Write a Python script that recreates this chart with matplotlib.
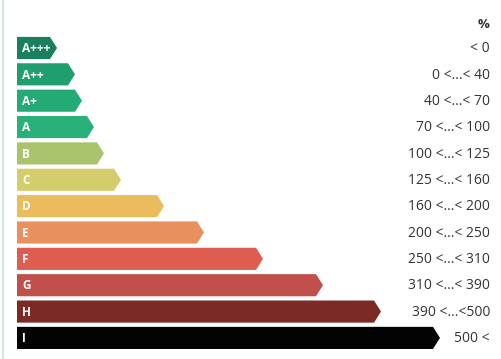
import matplotlib
matplotlib.use("Agg")
import matplotlib.pyplot as plt
from matplotlib.patches import Polygon

# classes, bar lengths (px from the left edge to the arrow tip) and ranges
classes = ["A+++", "A++", "A+", "A", "B", "C", "D", "E", "F", "G", "H", "I"]
lengths = [40, 58, 65, 77, 87, 104, 147, 187, 246, 306, 364, 423]
ranges = ["< 0", "0 <...< 40", "40 <...< 70", "70 <...< 100", "100 <...< 125",
          "125 <...< 160", "160 <...< 200", "200 <...< 250", "250 <...< 310",
          "310 <...< 390", "390 <...<500", "500 <"]
colors = ["#1a7f5e", "#1f9f6e", "#24aa75", "#28b27a", "#a9c46d", "#d5cd6c",
          "#ebbc5e", "#e8915f", "#df5c50", "#c0504a", "#7b2a25", "#030303"]
header = "%"

plt.rcParams['font.family'] = ['Open Sans', 'DejaVu Sans']

fig = plt.figure(figsize=(5.01, 3.59), dpi=100)
ax = fig.add_axes([0, 0, 1, 1])
ax.set_xlim(0, 501)
ax.set_ylim(11.80, -1.82)
ax.axis("off")

x0 = 17
h = 0.84
tip = 7

for i, (c, L, col) in enumerate(zip(classes, lengths, colors)):
    end = x0 + L
    pts = [(x0, i - h / 2), (end - tip, i - h / 2), (end, i),
           (end - tip, i + h / 2), (x0, i + h / 2)]
    ax.add_patch(Polygon(pts, closed=True, facecolor=col, edgecolor="none"))
    ax.text(x0 + 5, i + 0.03, c, color="white", fontsize=8.5, fontweight="bold",
            ha="left", va="center")
    ax.text(490, i + 0.03, ranges[i], color="#333333", fontsize=10,
            ha="right", va="center")

ax.text(490, -0.88, header, color="#333333", fontsize=9.5, fontweight="bold",
        ha="right", va="center")

# light frame line on the left
ax.axvline(3, color="#d5e6e6", lw=1.5)

fig.savefig("out.png", dpi=100)
